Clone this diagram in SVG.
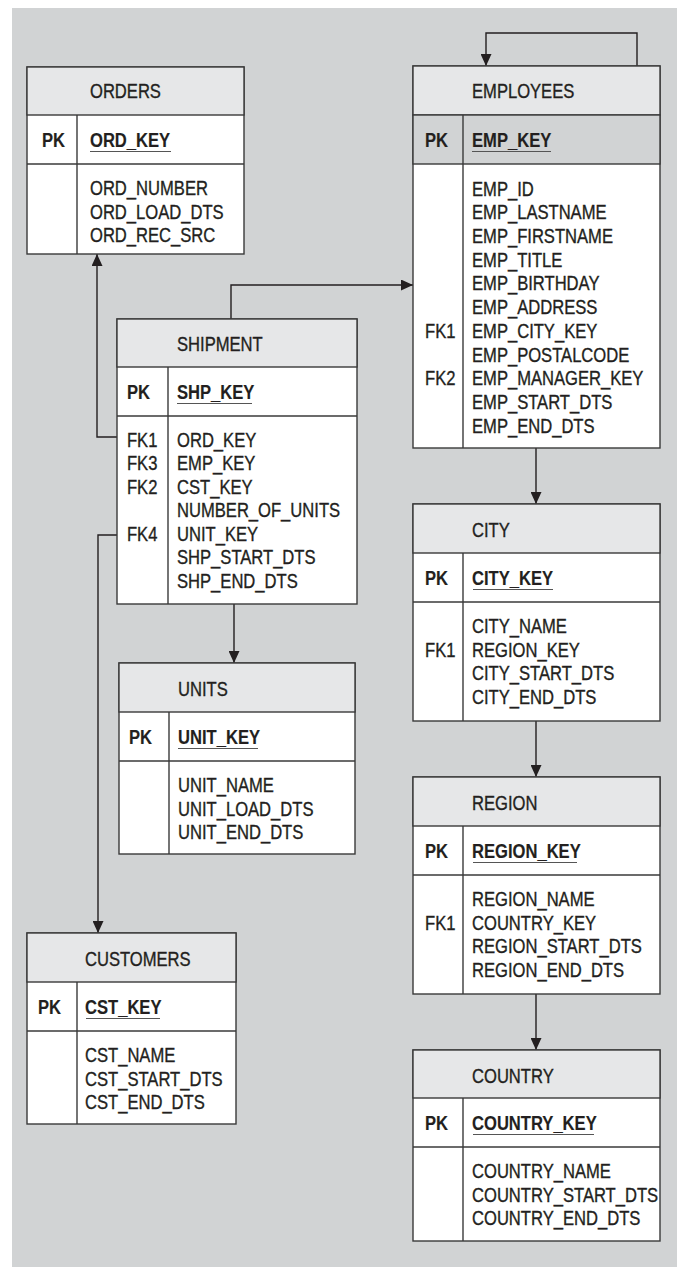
<svg xmlns="http://www.w3.org/2000/svg" width="677" height="1267" viewBox="0 0 677 1267">
<style>
text{font-family:"Liberation Sans",Arial,sans-serif;font-size:20px;fill:#231f20;stroke:#231f20;stroke-width:0.35;}
.b{font-weight:bold;stroke-width:0.15;}
.box{fill:#fff;stroke:#3a3a3a;stroke-width:1.4;}
.hd{fill:#e6e7e8;stroke:#3a3a3a;stroke-width:1.4;}
.pkg{fill:#d1d3d4;stroke:#3a3a3a;stroke-width:1.4;}
.ln{stroke:#3a3a3a;stroke-width:1.4;fill:none;}
.ul{stroke:#555;stroke-width:1.2;}
.cn{stroke:#231f20;stroke-width:1.4;fill:none;}
</style>
<defs>
<marker id="ah" viewBox="0 0 12 11" refX="12" refY="5.5" markerWidth="12" markerHeight="11" markerUnits="userSpaceOnUse" orient="auto">
<path d="M0,0 L12,5.5 L0,11 Z" fill="#231f20"/>
</marker>
</defs>
<rect x="12" y="8" width="665" height="1259" fill="#d1d3d4"/>

<g id="connectors">
<path class="cn" d="M637,66 V33 H486 V66" marker-end="url(#ah)"/>
<path class="cn" d="M231,319 V285 H413" marker-end="url(#ah)"/>
<path class="cn" d="M117,437 H97 V254" marker-end="url(#ah)"/>
<path class="cn" d="M117,535 H98 V933" marker-end="url(#ah)"/>
<path class="cn" d="M234,604 V663" marker-end="url(#ah)"/>
<path class="cn" d="M536,448 V504" marker-end="url(#ah)"/>
<path class="cn" d="M536,721 V777" marker-end="url(#ah)"/>
<path class="cn" d="M536,994 V1050" marker-end="url(#ah)"/>
</g>

<g id="orders">
<rect class="box" x="27" y="67" width="217" height="187"/>
<rect class="hd" x="27" y="67" width="217" height="48"/>
<line class="ln" x1="27" y1="164" x2="244" y2="164"/>
<line class="ln" x1="77" y1="115" x2="77" y2="254"/>
<line class="ul" x1="90" y1="151.5" x2="171" y2="151.5"/>
<g transform="translate(27,0) scale(0.83,1)">
<text x="75.9" y="98">ORDERS</text>
<text class="b" x="18.1" y="147">PK</text>
<text class="b" x="75.9" y="147">ORD_KEY</text>
<text x="75.9" y="195">ORD_NUMBER</text>
<text x="75.9" y="218.7">ORD_LOAD_DTS</text>
<text x="75.9" y="242.4">ORD_REC_SRC</text>
</g>
</g>

<g id="employees">
<rect class="box" x="413" y="66" width="247" height="382"/>
<rect class="hd" x="413" y="66" width="247" height="49"/>
<rect class="pkg" x="413" y="115" width="247" height="49"/>
<line class="ln" x1="463" y1="115" x2="463" y2="448"/>
<line class="ul" x1="472" y1="151.5" x2="551" y2="151.5"/>
<g transform="translate(413,0) scale(0.83,1)">
<text x="71.1" y="98">EMPLOYEES</text>
<text class="b" x="14.5" y="147">PK</text>
<text class="b" x="71.1" y="147">EMP_KEY</text>
<text x="71.1" y="195.7">EMP_ID</text>
<text x="71.1" y="219.4">EMP_LASTNAME</text>
<text x="71.1" y="243.1">EMP_FIRSTNAME</text>
<text x="71.1" y="266.8">EMP_TITLE</text>
<text x="71.1" y="290.5">EMP_BIRTHDAY</text>
<text x="71.1" y="314.2">EMP_ADDRESS</text>
<text x="14.5" y="337.9">FK1</text>
<text x="71.1" y="337.9">EMP_CITY_KEY</text>
<text x="71.1" y="361.6">EMP_POSTALCODE</text>
<text x="14.5" y="385.3">FK2</text>
<text x="71.1" y="385.3">EMP_MANAGER_KEY</text>
<text x="71.1" y="409">EMP_START_DTS</text>
<text x="71.1" y="432.7">EMP_END_DTS</text>
</g>
</g>

<g id="shipment">
<rect class="box" x="117" y="319" width="240" height="285"/>
<rect class="hd" x="117" y="319" width="240" height="48"/>
<line class="ln" x1="117" y1="416" x2="357" y2="416"/>
<line class="ln" x1="168" y1="367" x2="168" y2="604"/>
<line class="ul" x1="177" y1="403.5" x2="252" y2="403.5"/>
<g transform="translate(117,0) scale(0.83,1)">
<text x="72.3" y="351">SHIPMENT</text>
<text class="b" x="12" y="399">PK</text>
<text class="b" x="72.3" y="399">SHP_KEY</text>
<text x="12" y="447">FK1</text>
<text x="72.3" y="447">ORD_KEY</text>
<text x="12" y="470.5">FK3</text>
<text x="72.3" y="470.5">EMP_KEY</text>
<text x="12" y="494">FK2</text>
<text x="72.3" y="494">CST_KEY</text>
<text x="72.3" y="517.5">NUMBER_OF_UNITS</text>
<text x="12" y="541">FK4</text>
<text x="72.3" y="541">UNIT_KEY</text>
<text x="72.3" y="564.5">SHP_START_DTS</text>
<text x="72.3" y="588">SHP_END_DTS</text>
</g>
</g>

<g id="units">
<rect class="box" x="119" y="663" width="236" height="191"/>
<rect class="hd" x="119" y="663" width="236" height="49"/>
<line class="ln" x1="119" y1="761" x2="355" y2="761"/>
<line class="ln" x1="169" y1="712" x2="169" y2="854"/>
<line class="ul" x1="178" y1="748.5" x2="258" y2="748.5"/>
<g transform="translate(119,0) scale(0.83,1)">
<text x="71.1" y="696">UNITS</text>
<text class="b" x="12" y="744">PK</text>
<text class="b" x="71.1" y="744">UNIT_KEY</text>
<text x="71.1" y="792">UNIT_NAME</text>
<text x="71.1" y="815.7">UNIT_LOAD_DTS</text>
<text x="71.1" y="839.4">UNIT_END_DTS</text>
</g>
</g>

<g id="customers">
<rect class="box" x="27" y="933" width="209" height="191"/>
<rect class="hd" x="27" y="933" width="209" height="49"/>
<line class="ln" x1="27" y1="1031" x2="236" y2="1031"/>
<line class="ln" x1="77" y1="982" x2="77" y2="1124"/>
<line class="ul" x1="86" y1="1018.5" x2="160" y2="1018.5"/>
<g transform="translate(27,0) scale(0.83,1)">
<text x="69.9" y="966">CUSTOMERS</text>
<text class="b" x="13.3" y="1014">PK</text>
<text class="b" x="69.9" y="1014">CST_KEY</text>
<text x="69.9" y="1062">CST_NAME</text>
<text x="69.9" y="1085.7">CST_START_DTS</text>
<text x="69.9" y="1109.4">CST_END_DTS</text>
</g>
</g>

<g id="city">
<rect class="box" x="413" y="504" width="247" height="217"/>
<rect class="hd" x="413" y="504" width="247" height="49"/>
<line class="ln" x1="413" y1="602" x2="660" y2="602"/>
<line class="ln" x1="463" y1="553" x2="463" y2="721"/>
<line class="ul" x1="473" y1="589.5" x2="553" y2="589.5"/>
<g transform="translate(413,0) scale(0.83,1)">
<text x="71.1" y="537">CITY</text>
<text class="b" x="14.5" y="585">PK</text>
<text class="b" x="71.1" y="585">CITY_KEY</text>
<text x="71.1" y="633">CITY_NAME</text>
<text x="14.5" y="656.7">FK1</text>
<text x="71.1" y="656.7">REGION_KEY</text>
<text x="71.1" y="680.4">CITY_START_DTS</text>
<text x="71.1" y="704.1">CITY_END_DTS</text>
</g>
</g>

<g id="region">
<rect class="box" x="413" y="777" width="247" height="217"/>
<rect class="hd" x="413" y="777" width="247" height="49"/>
<line class="ln" x1="413" y1="875" x2="660" y2="875"/>
<line class="ln" x1="463" y1="826" x2="463" y2="994"/>
<line class="ul" x1="473" y1="862.5" x2="577" y2="862.5"/>
<g transform="translate(413,0) scale(0.83,1)">
<text x="71.1" y="810">REGION</text>
<text class="b" x="14.5" y="858">PK</text>
<text class="b" x="71.1" y="858">REGION_KEY</text>
<text x="71.1" y="906">REGION_NAME</text>
<text x="14.5" y="929.7">FK1</text>
<text x="71.1" y="929.7">COUNTRY_KEY</text>
<text x="71.1" y="953.4">REGION_START_DTS</text>
<text x="71.1" y="977.1">REGION_END_DTS</text>
</g>
</g>

<g id="country">
<rect class="box" x="413" y="1050" width="247" height="191"/>
<rect class="hd" x="413" y="1050" width="247" height="48"/>
<line class="ln" x1="413" y1="1147" x2="660" y2="1147"/>
<line class="ln" x1="463" y1="1098" x2="463" y2="1241"/>
<line class="ul" x1="473" y1="1134.5" x2="594" y2="1134.5"/>
<g transform="translate(413,0) scale(0.83,1)">
<text x="71.1" y="1083">COUNTRY</text>
<text class="b" x="14.5" y="1130">PK</text>
<text class="b" x="71.1" y="1130">COUNTRY_KEY</text>
<text x="71.1" y="1178">COUNTRY_NAME</text>
<text x="71.1" y="1201.7">COUNTRY_START_DTS</text>
<text x="71.1" y="1225.4">COUNTRY_END_DTS</text>
</g>
</g>
</svg>
